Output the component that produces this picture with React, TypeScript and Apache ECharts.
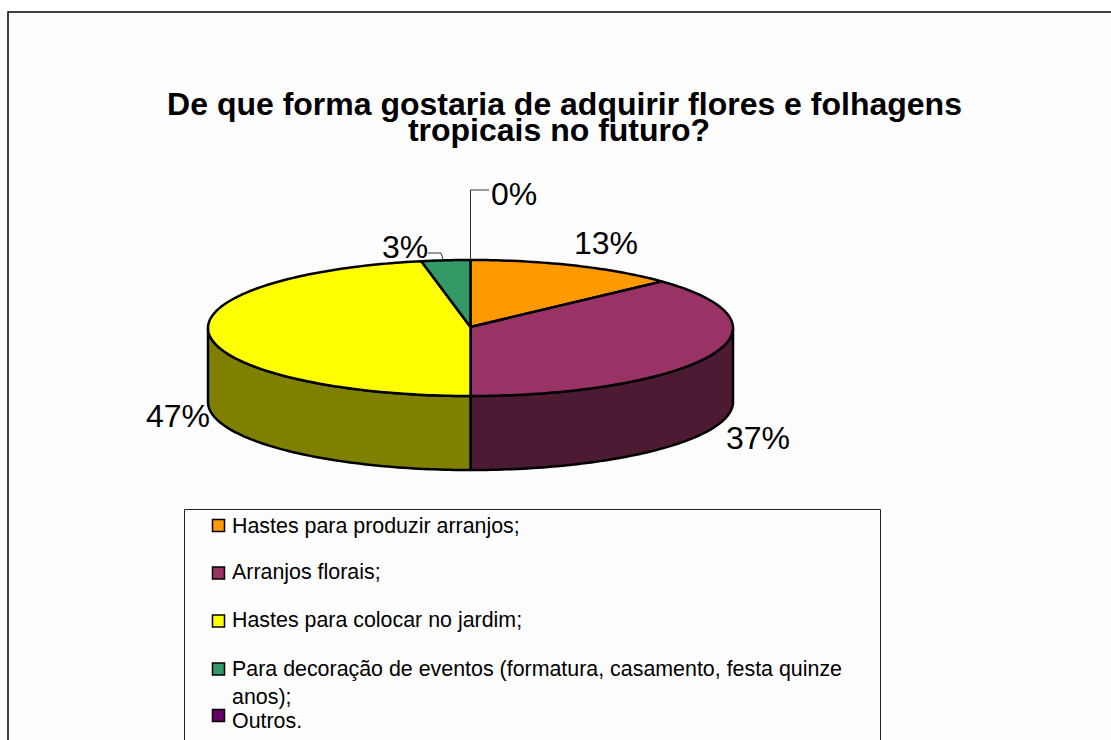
import React, { useEffect, useRef } from "react";
import * as echarts from "echarts";

const categories = [
  "Hastes para produzir arranjos;",
  "Arranjos florais;",
  "Hastes para colocar no jardim;",
  "Para decoração de eventos (formatura, casamento, festa quinze\nanos);",
  "Outros.",
];
const shares = [13, 37, 47, 3, 0];
const topColors = ["#FF9900", "#993366", "#FFFF00", "#339966", "#660066"];
const wallColors = ["#804D00", "#4D1A33", "#808000", "#1A4D33", "#330033"];
const titleLines = [
  "De que forma gostaria de adquirir flores e folhagens",
  "tropicais no futuro?",
];

// Disc projection, in pixels
const disc = { cx: 470.5, cy: 328, rx: 262.5, ry: 68, depth: 74 };
const hub = { x: 470.5, y: 327 };

// Label centres and leader lines per slice
const labelCentres = [
  [606, 243],
  [758, 438],
  [178, 416],
  [405, 247],
  [514, 194],
];
const leaders: number[][][] = [
  [],
  [],
  [],
  [[443, 259], [441, 253], [428, 253]],
  [[470.5, 260], [470.5, 190], [489, 190]],
];

// Legend rows: marker top and text centre
const legendRows = [
  { marker: 519.5, text: 526 },
  { marker: 567, text: 572 },
  { marker: 615, text: 620 },
  { marker: 663, text: 669 },
  { marker: 709.5, text: 721 },
];

const FONT = "'Liberation Sans', Arial, sans-serif";
const total = shares.reduce((a, b) => a + b, 0);

function sliceAngles(i: number) {
  const before = shares.slice(0, i).reduce((a, b) => a + b, 0);
  return [(before / total) * 2 * Math.PI, ((before + shares[i]) / total) * 2 * Math.PI];
}

// Angle is measured clockwise from twelve o'clock
function rim(theta: number, drop = 0) {
  return [
    disc.cx + disc.rx * Math.sin(theta),
    disc.cy - disc.ry * Math.cos(theta) + drop,
  ];
}

function arcPoints(a: number, b: number, drop = 0) {
  const n = Math.max(2, Math.ceil((b - a) / 0.02));
  const pts: number[][] = [];
  for (let k = 0; k <= n; k++) pts.push(rim(a + ((b - a) * k) / n, drop));
  return pts;
}

const edgeStyle = { stroke: "#000", lineWidth: 2.5, lineJoin: "round" };

function renderWall(params: any) {
  const [a, b] = sliceAngles(params.dataIndex);
  const from = Math.max(a, Math.PI / 2);
  const to = Math.min(b, (3 * Math.PI) / 2);
  if (to <= from) return { type: "group", children: [] };
  const points = [
    ...arcPoints(from, to),
    ...arcPoints(from, to, disc.depth).reverse(),
  ];
  return {
    type: "polygon",
    shape: { points },
    style: { fill: wallColors[params.dataIndex], ...edgeStyle },
  };
}

function renderTop(params: any) {
  const [a, b] = sliceAngles(params.dataIndex);
  if (b <= a) return { type: "group", children: [] };
  return {
    type: "polygon",
    shape: { points: [[hub.x, hub.y], ...arcPoints(a, b)] },
    style: { fill: topColors[params.dataIndex], ...edgeStyle },
  };
}

function renderLabel(params: any, api: any) {
  const i = params.dataIndex;
  const children: any[] = [];
  if (leaders[i].length) {
    children.push({
      type: "polyline",
      shape: { points: leaders[i] },
      style: { fill: "none", stroke: "#333", lineWidth: 1 },
    });
  }
  children.push({
    type: "text",
    x: labelCentres[i][0],
    y: labelCentres[i][1],
    style: {
      text: `${api.value(0)}%`,
      fill: "#000",
      font: `32px ${FONT}`,
      textAlign: "center",
      textVerticalAlign: "middle",
    },
  });
  return { type: "group", children };
}

function buildOption() {
  const legendGraphics: any[] = [
    {
      type: "rect",
      shape: { x: 184.5, y: 509.5, width: 696, height: 260 },
      style: { fill: "#FDFDFD", stroke: "#222", lineWidth: 1 },
    },
  ];
  categories.forEach((name, i) => {
    const wrapped = name.includes("\n");
    legendGraphics.push({
      type: "rect",
      shape: { x: 212.5, y: legendRows[i].marker, width: 12, height: 12 },
      style: { fill: topColors[i], stroke: "#000", lineWidth: 1.5 },
    });
    legendGraphics.push({
      type: "text",
      x: 232,
      y: wrapped ? legendRows[i].text - 14 : legendRows[i].text,
      style: {
        text: name,
        fill: "#000",
        font: `21.4px ${FONT}`,
        lineHeight: 28,
        textVerticalAlign: wrapped ? "top" : "middle",
      },
    });
  });

  const pieData = shares.map((value, i) => ({ name: categories[i], value }));

  return {
    animation: false,
    backgroundColor: "#FFFFFF",
    title: [
      {
        text: titleLines[0],
        left: 559.5,
        top: 83,
        textAlign: "center",
        textStyle: { fontFamily: FONT, fontSize: 32, fontWeight: "bold", color: "#000" },
      },
      {
        text: titleLines[1],
        left: 554,
        top: 109,
        textAlign: "center",
        textStyle: { fontFamily: FONT, fontSize: 32, fontWeight: "bold", color: "#000" },
      },
    ],
    graphic: [
      {
        type: "rect",
        z: -10,
        shape: { x: 8, y: 12, width: 1120, height: 760 },
        style: { fill: "#FDFDFD", stroke: "#000", lineWidth: 1.5 },
      },
      ...legendGraphics,
    ],
    series: [
      { type: "custom", coordinateSystem: "none", z: 2, data: pieData, renderItem: renderWall },
      { type: "custom", coordinateSystem: "none", z: 3, data: pieData, renderItem: renderTop },
      { type: "custom", coordinateSystem: "none", z: 4, data: pieData, renderItem: renderLabel },
    ],
  };
}

export default function App() {
  const ref = useRef<HTMLDivElement>(null);
  useEffect(() => {
    document.body.style.margin = "0";
    document.body.style.overflow = "hidden";
    const chart = echarts.init(ref.current!, undefined, { renderer: "svg" });
    chart.setOption(buildOption() as any);
    return () => chart.dispose();
  }, []);
  return <div ref={ref} style={{ width: 1111, height: 740 }} />;
}
